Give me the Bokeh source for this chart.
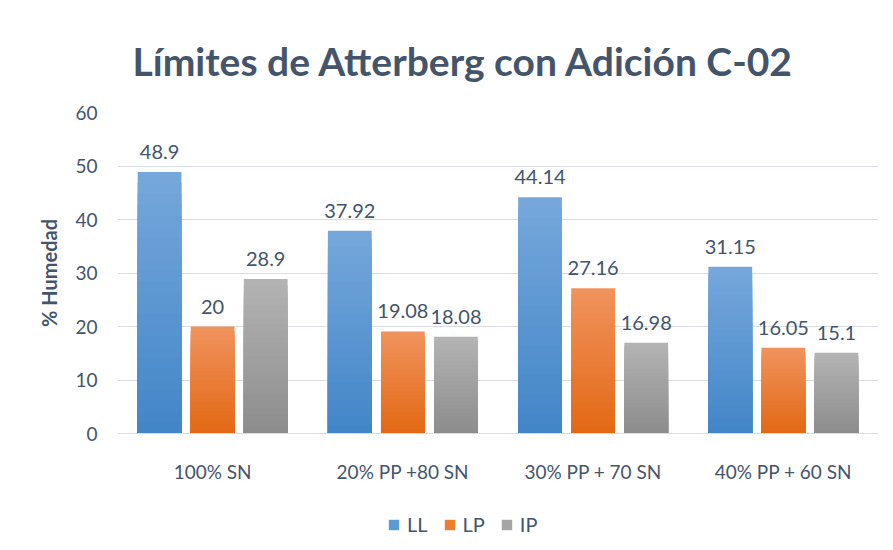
from bokeh.plotting import figure
from bokeh.models import (ColumnDataSource, FactorRange, LabelSet, Legend, LegendItem, Range1d)
from bokeh.layouts import column
from bokeh.core.properties import value
from bokeh.transform import dodge
from bokeh.embed import file_html
from bokeh.resources import INLINE

categories = ["100% SN", "20% PP +80 SN", "30% PP + 70 SN", "40% PP + 60 SN"]
series_names = ["LL", "LP", "IP"]
ll = [48.9, 37.92, 44.14, 31.15]
lp = [20, 19.08, 27.16, 16.05]
ip = [28.9, 18.08, 16.98, 15.1]
ll_labels = ["48.9", "37.92", "44.14", "31.15"]
lp_labels = ["20", "19.08", "27.16", "16.05"]
ip_labels = ["28.9", "18.08", "16.98", "15.1"]

# gradient end colours (top, bottom) per series
grad = {
    "LL": ((0x75, 0xA7, 0xDB), (0x43, 0x86, 0xC8)),
    "LP": ((0xF0, 0x92, 0x5C), (0xE3, 0x69, 0x15)),
    "IP": ((0xB3, 0xB3, 0xB3), (0x8D, 0x8D, 0x8D)),
}
legend_colors = {"LL": "#5B9BD5", "LP": "#ED7D31", "IP": "#A5A5A5"}

TEXT = "#44546A"
FONT = "Lato"

p = figure(x_range=FactorRange(*categories), y_range=(0, 60),
           width=878, height=485, output_backend="svg", toolbar_location=None,
           min_border_left=117, min_border_right=0, min_border_top=112,
           min_border_bottom=45)

p.title.text = "Límites de Atterberg con Adición C-02"
p.title.text_font = FONT
p.title.text_font_size = "39px"
p.title.text_font_style = "bold"
p.title.text_color = TEXT
p.title.align = "left"
p.title.offset = 15
p.title.standoff = 57

p.outline_line_color = None
p.xgrid.grid_line_color = None
p.ygrid.grid_line_color = "#D9DDE3"
p.ygrid.grid_line_width = 1

p.yaxis.ticker = [0, 10, 20, 30, 40, 50, 60]
p.yaxis.axis_line_color = None
p.yaxis.major_tick_line_color = None
p.yaxis.minor_tick_line_color = None
p.yaxis.major_label_text_font = FONT
p.yaxis.major_label_text_font_size = "19px"
p.yaxis.major_label_text_color = TEXT
p.yaxis.major_label_standoff = 14
p.yaxis.axis_label = "% Humedad"
p.yaxis.axis_label_text_font = FONT
p.yaxis.axis_label_text_font_size = "20px"
p.yaxis.axis_label_text_font_style = "bold"
p.yaxis.axis_label_text_color = TEXT
p.yaxis.axis_label_standoff = 11

p.xaxis.axis_line_color = "#D9DDE3"
p.xaxis.major_tick_line_color = None
p.xaxis.minor_tick_line_color = None
p.xaxis.major_label_text_font = FONT
p.xaxis.major_label_text_font_size = "19px"
p.xaxis.major_label_text_color = TEXT
p.xaxis.major_label_standoff = 20

source = ColumnDataSource(dict(cat=categories, LL=ll, LP=lp, IP=ip,
                               LL_lab=ll_labels, LP_lab=lp_labels, IP_lab=ip_labels))

offsets = {"LL": -0.279, "LP": 0.0, "IP": 0.279}
N = 24
for name in series_names:
    top_c, bot_c = grad[name]
    vals = source.data[name]
    for k in range(N):
        t = k / (N - 1)
        col = "#%02x%02x%02x" % tuple(int(round(a + (b - a) * t)) for a, b in zip(top_c, bot_c))
        frac = 1 - k / N
        layer_src = ColumnDataSource(dict(cat=categories, top=[v * frac for v in vals]))
        p.vbar(x=dodge("cat", offsets[name], range=p.x_range), top="top", bottom=0,
               width=0.23, source=layer_src, fill_color=col, line_color=None)
    labels = LabelSet(x=dodge("cat", offsets[name], range=p.x_range), y=name,
                      text=name + "_lab", source=source, y_offset=13,
                      text_align="center", text_baseline="bottom",
                      text_font_size="20px", text_color=TEXT, text_font=value(FONT))
    p.add_layout(labels)

# legend strip below the chart (proxy glyphs lie outside its visible range)
lf = figure(width=878, height=60, output_backend="svg", toolbar_location=None,
            x_range=Range1d(0, 1), y_range=Range1d(0, 1),
            min_border_left=0, min_border_right=0, min_border_top=0, min_border_bottom=0)
lf.axis.visible = False
lf.grid.visible = False
lf.outline_line_color = None
items = []
for name in series_names:
    r = lf.vbar(x=[-5], top=[-5], bottom=[-6], width=0.1,
                fill_color=legend_colors[name], line_color=None)
    items.append(LegendItem(label=name, renderers=[r]))
legend = Legend(items=items, orientation="horizontal", location=(270, 9),
                label_text_font=FONT, label_text_font_size="20px",
                label_text_color=TEXT, glyph_width=13, glyph_height=13,
                spacing=15, label_standoff=7, border_line_color=None,
                background_fill_alpha=0, padding=4, margin=0)
lf.add_layout(legend, "center")

layout = column(p, lf, spacing=0)
open("out.html", "w").write(file_html(layout, INLINE))
